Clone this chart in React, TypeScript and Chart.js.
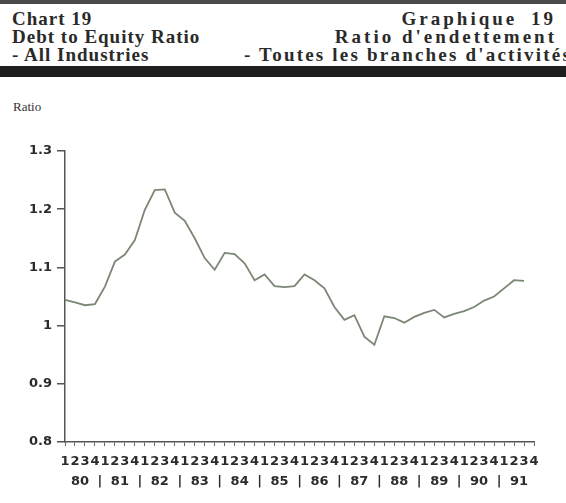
import React, { useEffect, useRef } from "react";
import { Chart, registerables } from "chart.js";

Chart.register(...registerables);

const years = ["80", "81", "82", "83", "84", "85", "86", "87", "88", "89", "90", "91"];
const quarters = ["1", "2", "3", "4"];
const yTicks = [0.8, 0.9, 1.0, 1.1, 1.2, 1.3];

// Debt to equity ratio, quarterly 1980 Q1 - 1991 Q3
const ratio = [
  1.044, 1.040, 1.035, 1.037,
  1.067, 1.110, 1.122, 1.147,
  1.199, 1.233, 1.234, 1.194,
  1.180, 1.150, 1.116, 1.096,
  1.125, 1.123, 1.107, 1.078,
  1.088, 1.068, 1.066, 1.068,
  1.088, 1.078, 1.064, 1.032,
  1.010, 1.018, 0.981, 0.967,
  1.016, 1.013, 1.005, 1.015,
  1.022, 1.027, 1.014, 1.020,
  1.025, 1.032, 1.043, 1.050,
  1.064, 1.078, 1.077,
];

const labels: string[] = [];
years.forEach(() => quarters.forEach((q) => labels.push(q)));

const TEXT = "#2b2b2b";
const AXIS = "#555";

const yearRowPlugin = {
  id: "yearRow",
  afterDraw(chart: any) {
    const xs = chart.scales.x;
    const ctx = chart.ctx;
    ctx.save();
    ctx.font = 'bold 13px "DejaVu Sans"';
    ctx.fillStyle = TEXT;
    ctx.textAlign = "center";
    ctx.textBaseline = "middle";
    const y = xs.top + 40;
    years.forEach((yr, k) => {
      const c = (xs.getPixelForValue(4 * k + 1) + xs.getPixelForValue(4 * k + 2)) / 2;
      ctx.fillText(yr, c, y);
      if (k < years.length - 1) {
        const s = (xs.getPixelForValue(4 * k + 3) + xs.getPixelForValue(4 * k + 4)) / 2;
        ctx.fillText("|", s, y);
      }
    });
    ctx.restore();
  },
};

export default function App() {
  const ref = useRef<HTMLCanvasElement | null>(null);

  useEffect(() => {
    if (!ref.current) return;
    const chart = new Chart(ref.current, {
      type: "line",
      data: {
        labels,
        datasets: [
          {
            data: ratio,
            borderColor: "#7b8775",
            borderWidth: 1.8,
            pointRadius: 0,
            tension: 0,
            fill: false,
          },
        ],
      },
      options: {
        animation: false,
        responsive: true,
        maintainAspectRatio: false,
        layout: { padding: { top: 151, right: 32, bottom: 0, left: 0 } },
        plugins: { legend: { display: false }, tooltip: { enabled: false }, title: { display: false } },
        scales: {
          x: {
            type: "category",
            offset: false,
            afterFit: (s: any) => {
              s.height = 61;
            },
            grid: { drawOnChartArea: false, drawTicks: true, tickLength: 4, color: "#666", lineWidth: 1 },
            border: { display: true, color: AXIS, width: 1.5 },
            ticks: {
              autoSkip: false,
              maxRotation: 0,
              minRotation: 0,
              padding: 8,
              color: TEXT,
              font: { family: "DejaVu Sans", size: 13, weight: "bold" },
            },
          },
          y: {
            type: "linear",
            min: 0.8,
            max: 1.3,
            afterFit: (s: any) => {
              s.width = 65;
            },
            afterBuildTicks: (s: any) => {
              s.ticks = yTicks.map((v) => ({ value: v }));
            },
            grid: { drawOnChartArea: false, drawTicks: true, tickLength: 8, color: AXIS, lineWidth: 1.5 },
            border: { display: true, color: AXIS, width: 1.5 },
            ticks: {
              padding: 5,
              color: TEXT,
              font: { family: "DejaVu Sans", size: 13, weight: "bold" },
              callback: (v: any) => String(Number(Number(v).toFixed(1))),
            },
          },
        },
      },
      plugins: [yearRowPlugin],
    });
    return () => chart.destroy();
  }, []);

  const serif = '"Liberation Serif", "Times New Roman", serif';
  const head: React.CSSProperties = {
    position: "absolute",
    fontFamily: serif,
    fontWeight: "bold",
    fontSize: 19,
    lineHeight: "19px",
    letterSpacing: "1px",
    color: "#2a2a2a",
    whiteSpace: "nowrap",
  };

  return (
    <div
      style={{
        position: "fixed",
        left: 0,
        top: 0,
        width: 566,
        height: 503,
        background: "#fff",
        overflow: "hidden",
      }}
    >
      <div style={{ position: "absolute", left: 0, top: 0, width: 566, height: 4, background: "#4a4a4a" }} />
      <div style={{ ...head, left: 12, top: 9 }}>Chart 19</div>
      <div style={{ ...head, left: 12, top: 27 }}>Debt to Equity Ratio</div>
      <div style={{ ...head, left: 12, top: 45 }}>- All Industries</div>
      <div style={{ ...head, right: 10, top: 9, letterSpacing: "3px", wordSpacing: "6px" }}>Graphique 19</div>
      <div style={{ ...head, right: 9, top: 27, letterSpacing: "3px" }}>Ratio d'endettement</div>
      <div style={{ ...head, right: -6, top: 45, letterSpacing: "2.2px" }}>- Toutes les branches d'activités</div>
      <div style={{ position: "absolute", left: 0, top: 66, width: 566, height: 11, background: "#1e1e1e" }} />
      <div
        style={{
          position: "absolute",
          left: 13,
          top: 100,
          fontFamily: serif,
          fontSize: 13,
          lineHeight: "13px",
          color: "#333",
        }}
      >
        Ratio
      </div>
      <canvas ref={ref} style={{ position: "absolute", left: 0, top: 0, width: 566, height: 503 }} />
    </div>
  );
}
